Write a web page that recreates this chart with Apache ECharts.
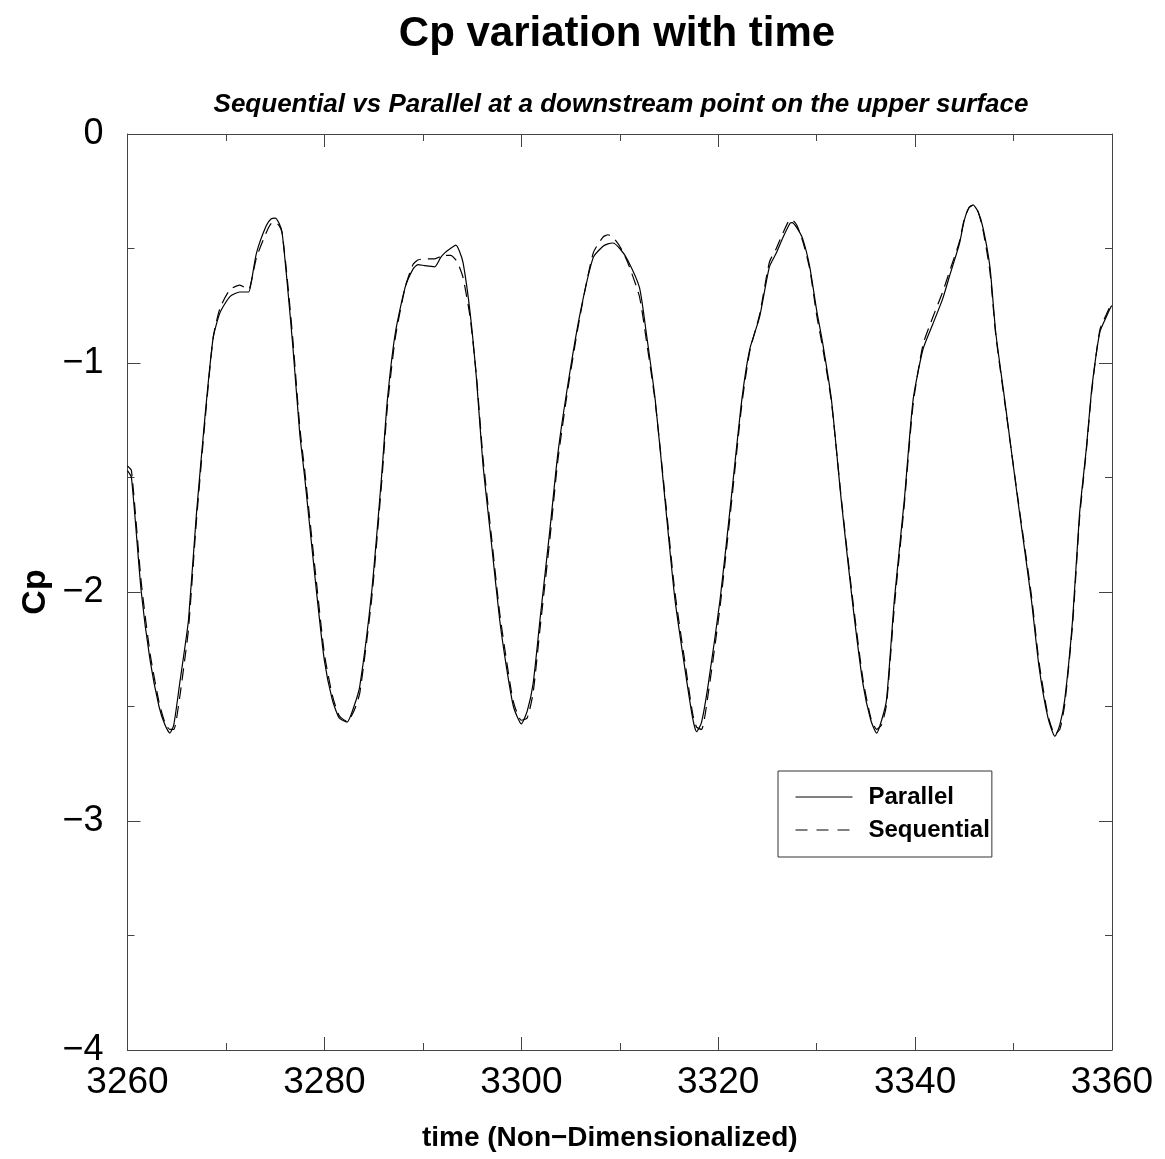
<!DOCTYPE html>
<html>
<head>
<meta charset="utf-8">
<script src="https://cdn.jsdelivr.net/npm/echarts@6/dist/echarts.min.js"></script>
<style>
html,body{margin:0;padding:0;background:#fff;}
#chart{width:1165px;height:1159px;}
</style>
</head>
<body>
<div id="chart"></div>
<script>
const chartTitle = 'Cp variation with time';
const chartSubtitle = 'Sequential vs Parallel at a downstream point on the upper surface';
const xName = 'time (Non\u2212Dimensionalized)';
const yName = 'Cp';
const seriesNames = ['Parallel', 'Sequential'];

const time = [
3260.0,3260.4,3261.4,3262.3,3263.2,3263.8,3264.3,3264.7,3265.3,3265.8,
3266.2,3267.0,3267.9,3268.7,3269.4,3270.4,3271.4,3272.3,3272.6,3273.1,
3274.1,3274.6,3275.0,3275.4,3275.7,3276.2,3276.8,3277.5,3278.0,3279.2,
3280.0,3280.8,3281.5,3282.3,3283.0,3283.6,3284.8,3285.8,3286.4,3287.2,
3288.2,3289.0,3289.5,3290.2,3291.2,3291.8,3292.2,3292.8,3293.35,3293.7,
3294.1,3294.8,3295.45,3296.1,3297.0,3297.8,3298.5,3299.2,3300.0,3300.6,
3301.2,3301.9,3302.9,3303.7,3304.6,3305.9,3307.3,3308.3,3308.8,3309.3,
3310.0,3310.8,3312.0,3312.7,3313.6,3314.6,3315.6,3316.6,3317.4,3317.8,
3318.3,3319.0,3320.2,3321.3,3322.4,3323.2,3324.2,3325.2,3325.9,3326.6,
3327.3,3327.5,3328.0,3328.6,3329.3,3330.0,3330.6,3331.5,3332.5,3333.6,
3334.7,3335.5,3336.1,3336.6,3337.1,3337.9,3338.9,3339.8,3340.8,3341.8,
3342.8,3343.5,3344.5,3345.0,3345.5,3345.9,3346.4,3346.9,3347.6,3348.2,
3349.1,3350.5,3351.8,3352.6,3353.5,3354.2,3354.7,3355.2,3356.0,3356.7,
3357.4,3357.9,3358.4,3358.8,3359.4,3359.9,3360.0
];

const parallelCp = [
-1.47,-1.50,-2.00,-2.30,-2.50,-2.58,-2.616,-2.58,-2.40,-2.25,
-2.12,-1.66,-1.22,-0.89,-0.78,-0.71,-0.69,-0.69,-0.64,-0.52,
-0.40,-0.37,-0.367,-0.39,-0.43,-0.64,-0.93,-1.31,-1.50,-2.00,
-2.30,-2.47,-2.55,-2.568,-2.50,-2.41,-2.00,-1.50,-1.16,-0.87,
-0.67,-0.59,-0.57,-0.575,-0.58,-0.54,-0.52,-0.50,-0.485,-0.51,
-0.565,-0.78,-1.07,-1.44,-1.80,-2.12,-2.33,-2.50,-2.576,-2.52,
-2.40,-2.12,-1.73,-1.40,-1.13,-0.80,-0.54,-0.49,-0.48,-0.476,
-0.50,-0.55,-0.67,-0.87,-1.16,-1.60,-2.03,-2.33,-2.55,-2.61,
-2.57,-2.40,-2.03,-1.60,-1.16,-0.94,-0.80,-0.58,-0.52,-0.45,
-0.39,-0.387,-0.41,-0.46,-0.58,-0.77,-0.91,-1.16,-1.60,-2.03,
-2.40,-2.56,-2.616,-2.56,-2.47,-2.03,-1.60,-1.16,-0.94,-0.83,
-0.72,-0.62,-0.48,-0.376,-0.32,-0.31,-0.34,-0.41,-0.58,-0.87,
-1.16,-1.62,-2.03,-2.33,-2.55,-2.63,-2.58,-2.47,-2.12,-1.66,
-1.37,-1.13,-0.96,-0.86,-0.80,-0.754,-0.75
];

const sequentialCp = [
-1.45,-1.47,-1.96,-2.27,-2.48,-2.57,-2.60,-2.60,-2.46,-2.30,
-2.16,-1.69,-1.24,-0.89,-0.76,-0.68,-0.66,-0.68,-0.64,-0.54,
-0.43,-0.39,-0.385,-0.40,-0.43,-0.62,-0.90,-1.28,-1.47,-1.96,
-2.27,-2.45,-2.54,-2.565,-2.52,-2.44,-2.03,-1.53,-1.19,-0.89,
-0.67,-0.57,-0.55,-0.545,-0.545,-0.535,-0.53,-0.53,-0.55,-0.58,
-0.63,-0.80,-1.06,-1.41,-1.77,-2.09,-2.30,-2.48,-2.56,-2.55,
-2.44,-2.16,-1.77,-1.43,-1.15,-0.81,-0.52,-0.45,-0.44,-0.45,
-0.49,-0.56,-0.71,-0.90,-1.17,-1.58,-2.00,-2.30,-2.53,-2.59,
-2.60,-2.44,-2.06,-1.63,-1.18,-0.95,-0.79,-0.56,-0.50,-0.43,
-0.375,-0.375,-0.40,-0.47,-0.59,-0.79,-0.93,-1.17,-1.59,-2.01,
-2.38,-2.55,-2.60,-2.58,-2.49,-2.06,-1.62,-1.18,-0.92,-0.80,
-0.69,-0.60,-0.47,-0.37,-0.32,-0.31,-0.34,-0.42,-0.60,-0.88,
-1.17,-1.61,-2.01,-2.31,-2.54,-2.62,-2.60,-2.49,-2.14,-1.68,
-1.38,-1.14,-0.96,-0.85,-0.79,-0.745,-0.74
];

const font = "'Liberation Sans', Arial, Helvetica, sans-serif";
const axisColor = '#444';

function pairs(xs, ys){ return xs.map((x,i)=>[x, ys[i]]); }

const chart = echarts.init(document.getElementById('chart'), null, {renderer:'canvas'});

const baseX = {
  type:'value', min:3260, max:3360, interval:20,
  axisLine:{show:true, onZero:false, lineStyle:{color:axisColor, width:1}},
  axisTick:{show:true, inside:true, length:13, lineStyle:{color:axisColor, width:1}},
  minorTick:{show:true, splitNumber:2, length:7, lineStyle:{color:axisColor, width:1}},
  splitLine:{show:false}, minorSplitLine:{show:false}
};
const baseY = {
  type:'value', min:-4, max:0, interval:1,
  axisLine:{show:true, onZero:false, lineStyle:{color:axisColor, width:1}},
  axisTick:{show:true, inside:true, length:13, lineStyle:{color:axisColor, width:1}},
  minorTick:{show:true, splitNumber:2, length:7, lineStyle:{color:axisColor, width:1}},
  splitLine:{show:false}, minorSplitLine:{show:false}
};

chart.setOption({
  animation:false,
  backgroundColor:'#fff',
  title:[
    {text:chartTitle, left:612, top:8, textAlign:'center',
     textStyle:{fontFamily:font, fontSize:42, fontWeight:'bold', color:'#000'}},
    {text:chartSubtitle, left:616, top:87, textAlign:'center',
     textStyle:{fontFamily:font, fontSize:26, fontWeight:'bold', fontStyle:'italic', color:'#000'}}
  ],
  legend:{
    left:778, top:771, orient:'vertical',
    data:[
      {name:seriesNames[0], lineStyle:{type:'solid', width:1}},
      {name:seriesNames[1], lineStyle:{type:[12,9], width:1}}
    ],
    itemWidth:57, itemHeight:24, itemGap:9,
    padding:[14,2,15,17],
    borderColor:'#333', borderWidth:1,
    backgroundColor:'#fff',
    itemStyle:{opacity:0},
    textStyle:{fontFamily:font, fontSize:24, fontWeight:'bold', color:'#000', padding:[0,0,0,11]}
  },
  grid:{left:127.5, right:53, top:134, bottom:109, containLabel:false},
  xAxis:[
    Object.assign({}, baseX, {position:'bottom',
      name:xName, nameLocation:'middle', nameGap:74,
      nameTextStyle:{fontFamily:font, fontSize:28, fontWeight:'bold', color:'#000', padding:[0,20,0,0]},
      axisLabel:{fontFamily:font, fontSize:37, color:'#000', margin:14,
        formatter:function(v){ return String(v); }}}),
    Object.assign({}, baseX, {position:'top', axisLabel:{show:false}})
  ],
  yAxis:[
    Object.assign({}, baseY, {position:'left',
      name:yName, nameLocation:'middle', nameGap:75, nameMoveOverlap:false,
      nameTextStyle:{fontFamily:font, fontSize:34, fontWeight:'bold', color:'#000', padding:[14,0,0,0]},
      axisLabel:{fontFamily:font, fontSize:36, color:'#000', margin:24,
        formatter:function(v){ return v===0 ? '0' : (v<0 ? '\u2212'+Math.abs(v) : String(v)); }}}),
    Object.assign({}, baseY, {position:'right', axisLabel:{show:false}})
  ],
  series:[
    {name:seriesNames[0], type:'line', xAxisIndex:0, yAxisIndex:0,
     data:pairs(time, parallelCp), symbol:'none', showSymbol:false,
     smooth:0.2,
     lineStyle:{color:'#000', width:1.2, type:'solid'}, itemStyle:{color:'#000'}},
    {name:seriesNames[1], type:'line', xAxisIndex:0, yAxisIndex:0,
     data:pairs(time, sequentialCp), symbol:'none', showSymbol:false,
     smooth:0.2,
     lineStyle:{color:'#000', width:1.2, type:[12,7]}, itemStyle:{color:'#000'}}
  ]
});
</script>
</body>
</html>
